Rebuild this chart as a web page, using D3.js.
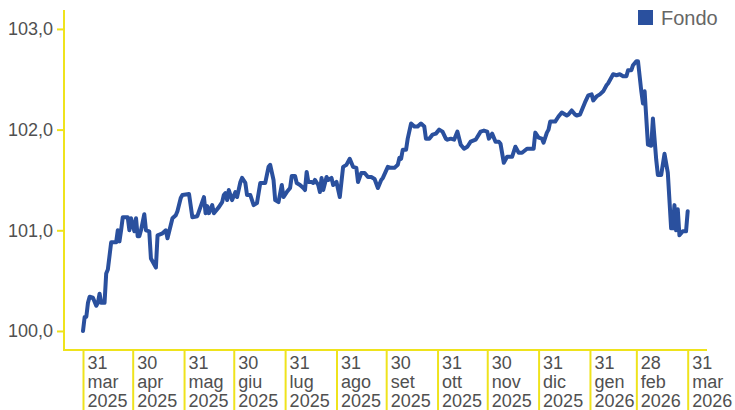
<!DOCTYPE html>
<html>
<head>
<meta charset="utf-8">
<script src="https://cdn.jsdelivr.net/npm/d3@7/dist/d3.min.js"></script>
<style>
  html, body { margin: 0; padding: 0; background: #ffffff; }
  svg { display: block; font-family: "Liberation Sans", Arial, Helvetica, sans-serif; }
</style>
</head>
<body>
<svg id="chart" width="735" height="410"></svg>
<script>
// Fund NAV series (base 100 on 31 mar 2025)
const dates = [
  "2025-03-31","2025-04-01","2025-04-02","2025-04-03","2025-04-04","2025-04-06","2025-04-08","2025-04-09","2025-04-10","2025-04-11","2025-04-13","2025-04-14","2025-04-15","2025-04-17","2025-04-20","2025-04-21","2025-04-22","2025-04-23","2025-04-24","2025-04-27","2025-04-28","2025-04-29",
  "2025-05-01","2025-05-02","2025-05-03","2025-05-04","2025-05-05","2025-05-07","2025-05-08","2025-05-10","2025-05-11","2025-05-14","2025-05-15","2025-05-18","2025-05-20","2025-05-21","2025-05-24","2025-05-26","2025-05-27","2025-05-29","2025-05-30",
  "2025-06-03","2025-06-05","2025-06-08","2025-06-12","2025-06-13","2025-06-14","2025-06-15","2025-06-17","2025-06-18","2025-06-19","2025-06-21","2025-06-23","2025-06-24","2025-06-25","2025-06-26","2025-06-27","2025-06-29",
  "2025-07-01","2025-07-02","2025-07-04","2025-07-05","2025-07-07","2025-07-08","2025-07-10","2025-07-12","2025-07-14","2025-07-16","2025-07-19","2025-07-21","2025-07-22","2025-07-24","2025-07-25","2025-07-27","2025-07-29","2025-07-30",
  "2025-08-01","2025-08-03","2025-08-04","2025-08-06","2025-08-07","2025-08-09","2025-08-11","2025-08-12","2025-08-13","2025-08-14","2025-08-16","2025-08-17","2025-08-18","2025-08-20","2025-08-21","2025-08-22","2025-08-23","2025-08-25","2025-08-26","2025-08-28","2025-08-29","2025-08-31",
  "2025-09-02","2025-09-04","2025-09-06","2025-09-08","2025-09-10","2025-09-12","2025-09-13","2025-09-15","2025-09-17","2025-09-19","2025-09-21","2025-09-23","2025-09-25","2025-09-27","2025-09-28",
  "2025-10-01","2025-10-03","2025-10-05","2025-10-07","2025-10-08","2025-10-09","2025-10-10","2025-10-12","2025-10-13","2025-10-15","2025-10-17","2025-10-19","2025-10-21","2025-10-23","2025-10-24","2025-10-26","2025-10-28","2025-10-30",
  "2025-11-01","2025-11-03","2025-11-05","2025-11-06","2025-11-08","2025-11-10","2025-11-12","2025-11-14","2025-11-16","2025-11-18","2025-11-20","2025-11-23","2025-11-26","2025-11-28","2025-11-30",
  "2025-12-01","2025-12-03","2025-12-05","2025-12-07","2025-12-08","2025-12-10","2025-12-12","2025-12-15","2025-12-17","2025-12-19","2025-12-21","2025-12-24","2025-12-28","2025-12-29","2025-12-31",
  "2026-01-02","2026-01-03","2026-01-05","2026-01-06","2026-01-07","2026-01-10","2026-01-12","2026-01-14","2026-01-16","2026-01-17","2026-01-18","2026-01-20","2026-01-22","2026-01-23","2026-01-25","2026-01-28","2026-01-30",
  "2026-02-01","2026-02-02","2026-02-04","2026-02-06","2026-02-08","2026-02-10","2026-02-11","2026-02-14","2026-02-16","2026-02-18","2026-02-20","2026-02-22","2026-02-23","2026-02-25","2026-02-26","2026-02-28",
  "2026-03-01","2026-03-03","2026-03-04","2026-03-05","2026-03-07","2026-03-09","2026-03-10","2026-03-12","2026-03-13","2026-03-15","2026-03-17","2026-03-19","2026-03-21","2026-03-22","2026-03-23","2026-03-24","2026-03-25","2026-03-26","2026-03-28","2026-03-30","2026-03-31"
];

const fondo = [
  100.00,100.14,100.14,100.28,100.34,100.33,100.25,100.28,100.37,100.28,100.28,100.57,100.61,100.88,100.88,101.00,100.89,101.00,101.13,101.13,101.00,101.12,
  100.99,101.12,100.94,100.94,101.00,101.16,101.00,100.99,100.72,100.63,100.95,100.97,101.00,100.92,101.12,101.15,101.19,101.32,101.35,
  101.36,101.13,101.14,101.33,101.17,101.24,101.17,101.25,101.17,101.19,101.23,101.28,101.35,101.37,101.30,101.40,101.30,
  101.38,101.33,101.48,101.52,101.47,101.35,101.35,101.25,101.27,101.47,101.47,101.63,101.65,101.50,101.30,101.28,101.45,101.33,
  101.38,101.42,101.54,101.54,101.47,101.45,101.42,101.40,101.58,101.48,101.48,101.47,101.50,101.45,101.38,101.52,101.40,101.53,101.50,101.52,101.45,101.48,
  101.33,101.63,101.65,101.71,101.63,101.62,101.48,101.57,101.57,101.53,101.53,101.51,101.42,101.50,101.52,
  101.63,101.62,101.62,101.65,101.72,101.71,101.80,101.80,101.91,102.06,102.03,102.03,102.06,102.03,101.91,101.91,101.95,101.96,
  102.00,101.98,101.91,101.90,101.91,101.90,101.98,101.85,101.81,101.83,101.88,101.90,101.98,101.99,101.98,
  101.91,101.96,101.88,101.88,101.86,101.67,101.73,101.73,101.83,101.77,101.77,101.81,101.81,101.97,101.92,
  101.91,101.87,101.97,102.00,102.08,102.08,102.13,102.17,102.15,102.14,102.15,102.19,102.15,102.14,102.15,102.27,102.34,
  102.35,102.29,102.33,102.35,102.38,102.44,102.46,102.55,102.54,102.55,102.53,102.53,102.59,102.59,102.64,102.68,
  102.68,102.38,102.26,102.38,101.85,101.84,102.11,101.70,101.55,101.55,101.76,101.57,101.02,101.02,101.25,101.00,101.21,100.95,100.99,100.99,101.19
];

// Month-end ticks on the time axis, with their three-line labels
const tickDates = ["2025-03-31","2025-04-30","2025-05-31","2025-06-30","2025-07-31","2025-08-31",
                   "2025-09-30","2025-10-31","2025-11-30","2025-12-31","2026-01-31","2026-02-28","2026-03-31"];
const tickDays   = ["31","30","31","30","31","31","30","31","30","31","31","28","31"];
const tickMonths = ["mar","apr","mag","giu","lug","ago","set","ott","nov","dic","gen","feb","mar"];
const tickYears  = ["2025","2025","2025","2025","2025","2025","2025","2025","2025","2025","2026","2026","2026"];

const yTicks = [100, 101, 102, 103];
const seriesName = "Fondo";

const lineColor = "#2a509e";
const axisColor = "#efe31c";
const textColor = "#505050";

const parse = d3.timeParse("%Y-%m-%d");
const data = dates.map((d, i) => ({ date: parse(d), value: fondo[i] }));

const svg = d3.select("#chart");

// Plot frame
const plotLeft = 64, plotRight = 707, plotTop = 10, plotBottom = 350;

const x = d3.scaleTime()
  .domain([parse(tickDates[0]), parse(tickDates[tickDates.length - 1])])
  .range([83, 687.7]);

const y = d3.scaleLinear()
  .domain([99.811, 103.188])
  .range([plotBottom, plotTop]);

// Y axis
const fmt = v => d3.format(".1f")(v).replace(".", ",");
const yAxis = d3.axisLeft(y)
  .tickValues(yTicks)
  .tickSize(7)
  .tickPadding(4)
  .tickFormat(fmt);

const gy = svg.append("g")
  .attr("transform", `translate(${plotLeft},0)`)
  .call(yAxis);
gy.select(".domain").remove();
gy.selectAll(".tick line").attr("stroke", axisColor).attr("stroke-width", 2);
gy.selectAll(".tick text")
  .attr("fill", textColor)
  .style("font-size", "18px")
  .style("font-family", "'Liberation Sans', Arial, sans-serif");

svg.append("line")
  .attr("x1", plotLeft).attr("x2", plotLeft)
  .attr("y1", plotTop).attr("y2", plotBottom + 1)
  .attr("stroke", axisColor).attr("stroke-width", 2);

// X axis
svg.append("line")
  .attr("x1", plotLeft - 1).attr("x2", plotRight)
  .attr("y1", plotBottom).attr("y2", plotBottom)
  .attr("stroke", axisColor).attr("stroke-width", 2);

const xAxis = d3.axisBottom(x)
  .tickValues(tickDates.map(parse))
  .tickSize(62)
  .tickFormat("");

const gx = svg.append("g")
  .attr("transform", `translate(0,${plotBottom})`)
  .call(xAxis);
gx.select(".domain").remove();
gx.selectAll(".tick line").attr("stroke", axisColor).attr("stroke-width", 2);

const labels = gx.selectAll(".tick")
  .append("text")
  .attr("x", 4)
  .attr("fill", textColor)
  .attr("text-anchor", "start")
  .style("font-size", "18px")
  .style("font-family", "'Liberation Sans', Arial, sans-serif");

labels.each(function (d, i) {
  const t = d3.select(this);
  [tickDays[i], tickMonths[i], tickYears[i]].forEach((s, k) => {
    t.append("tspan").attr("x", 4).attr("y", 19 + k * 19).text(s);
  });
});

// Series line
const line = d3.line()
  .x(d => x(d.date))
  .y(d => y(d.value))
  .curve(d3.curveLinear);

svg.append("path")
  .datum(data)
  .attr("fill", "none")
  .attr("stroke", lineColor)
  .attr("stroke-width", 4)
  .attr("stroke-linejoin", "round")
  .attr("stroke-linecap", "round")
  .attr("d", line);

// Legend
const legend = svg.append("g").attr("transform", "translate(638,10)");
legend.append("rect")
  .attr("width", 15).attr("height", 15)
  .attr("fill", lineColor);
legend.append("text")
  .attr("x", 23).attr("y", 14.5)
  .attr("fill", "#666666")
  .style("font-size", "20px")
  .style("font-family", "'Liberation Sans', Arial, sans-serif")
  .text(seriesName);
</script>
</body>
</html>
